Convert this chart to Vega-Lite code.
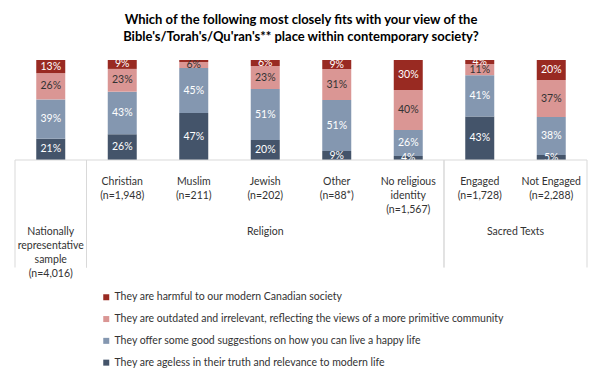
{
  "$schema": "https://vega.github.io/schema/vega-lite/v6.json",
  "width": 572,
  "height": 220,
  "autosize": {"type": "none"},
  "padding": {"left": 15, "right": 15, "top": 60, "bottom": 99},
  "background": "white",
  "config": {"view": {"stroke": null}, "font": "Lato"},
  "title": {
    "text": ["Which of the following most closely fits with your view of the", "Bible's/Torah's/Qu'ran's**  place within contemporary society?"],
    "font": "Lato", "fontSize": 13, "fontWeight": "bold", "color": "#000000",
    "anchor": "middle", "offset": 12, "lineHeight": 17
  },
  "datasets": {
    "rows": [
      {"cat": "National", "label": "", "ageless": 21, "offer": 39, "outdated": 26, "harmful": 13},
      {"cat": "Christian", "label": "Christian\n(n=1,948)", "ageless": 26, "offer": 43, "outdated": 23, "harmful": 9},
      {"cat": "Muslim", "label": "Muslim\n(n=211)", "ageless": 47, "offer": 45, "outdated": 6, "harmful": 2},
      {"cat": "Jewish", "label": "Jewish\n(n=202)", "ageless": 20, "offer": 51, "outdated": 23, "harmful": 6},
      {"cat": "Other", "label": "Other\n(n=88*)", "ageless": 9, "offer": 51, "outdated": 31, "harmful": 9},
      {"cat": "No religious", "label": "No religious\nidentity\n(n=1,567)", "ageless": 4, "offer": 26, "outdated": 40, "harmful": 30},
      {"cat": "Engaged", "label": "Engaged\n(n=1,728)", "ageless": 43, "offer": 41, "outdated": 11, "harmful": 4},
      {"cat": "Not Engaged", "label": "Not Engaged\n(n=2,288)", "ageless": 5, "offer": 38, "outdated": 37, "harmful": 20}
    ],
    "groups": [
      {"g": "Nationally\nrepresentative\nsample\n(n=4,016)", "first": "National", "last": "National", "at": "National"},
      {"g": "Religion", "first": "Christian", "last": "No religious", "at": "Jewish"},
      {"g": "Sacred Texts", "first": "Engaged", "last": "Not Engaged", "at": "Not Engaged"}
    ]
  },
  "layer": [
    {
      "data": {"name": "rows"},
      "transform": [
        {"fold": ["ageless", "offer", "outdated", "harmful"], "as": ["view", "pct"]},
        {"calculate": "indexof(['ageless','offer','outdated','harmful'], datum.view)", "as": "ord"},
        {"stack": "pct", "groupby": ["cat"], "sort": [{"field": "ord", "order": "ascending"}], "offset": "normalize", "as": ["y0", "y1"]},
        {"calculate": "(datum.y0 + datum.y1) / 2", "as": "ymid"},
        {"calculate": "datum.pct >= 3 ? datum.pct + '%' : ''", "as": "lbl"}
      ],
      "layer": [
        {
          "mark": {"type": "bar", "width": 29},
          "encoding": {
            "x": {
              "field": "cat", "type": "nominal",
              "scale": {"domain": ["National", "Christian", "Muslim", "Jewish", "Other", "No religious", "Engaged", "Not Engaged"], "paddingInner": 0, "paddingOuter": 0},
              "axis": null
            },
            "y": {"field": "y0", "type": "quantitative", "scale": {"domain": [-1.075, 1]}, "axis": null},
            "y2": {"field": "y1"},
            "color": {
              "field": "view", "type": "nominal",
              "scale": {"domain": ["harmful", "outdated", "offer", "ageless"], "range": ["#992A22", "#DA9694", "#8497B0", "#44546A"]},
              "legend": {
                "orient": "none", "legendX": 86, "legendY": 232, "direction": "vertical", "title": null,
                "symbolType": "square", "symbolSize": 36, "symbolStrokeWidth": 0,
                "labelFont": "Lato", "labelFontSize": 10.5, "labelColor": "#333333", "labelOffset": 3, "labelLimit": 600,
                "rowPadding": 10.8, "padding": 0,
                "labelExpr": "datum.label == 'harmful' ? 'They are harmful to our modern Canadian society' : datum.label == 'outdated' ? 'They are outdated and irrelevant, reflecting the views of a more primitive community' : datum.label == 'offer' ? 'They offer some good suggestions on how you can live a happy life' : 'They are ageless in their truth and relevance to modern life'"
              }
            }
          }
        },
        {
          "mark": {"type": "text", "fontSize": 10.5, "font": "Lato", "baseline": "middle"},
          "encoding": {
            "x": {"field": "cat", "type": "nominal"},
            "y": {"field": "ymid", "type": "quantitative"},
            "text": {"field": "lbl"},
            "color": {"condition": {"test": "datum.view == 'outdated'", "value": "#333333"}, "value": "#ffffff"}
          }
        }
      ]
    },
    {
      "data": {"name": "rows"},
      "mark": {"type": "text", "fontSize": 10.5, "font": "Lato", "baseline": "top", "lineBreak": "\n", "lineHeight": 14, "color": "#333333"},
      "encoding": {
        "x": {"field": "cat", "type": "nominal"},
        "y": {"datum": -0.17},
        "text": {"field": "label"}
      }
    },
    {
      "data": {"name": "groups"},
      "transform": [{"filter": "datum.g != 'Sacred Texts'"}],
      "mark": {"type": "text", "fontSize": 10.5, "font": "Lato", "baseline": "top", "lineBreak": "\n", "lineHeight": 14, "color": "#333333"},
      "encoding": {
        "x": {"field": "at", "type": "nominal", "bandPosition": 0.5},
        "y": {"datum": -0.665},
        "text": {"field": "g"}
      }
    },
    {
      "data": {"name": "groups"},
      "transform": [{"filter": "datum.g == 'Sacred Texts'"}],
      "mark": {"type": "text", "fontSize": 10.5, "font": "Lato", "baseline": "top", "color": "#333333"},
      "encoding": {
        "x": {"field": "at", "type": "nominal", "bandPosition": 0},
        "y": {"datum": -0.665},
        "text": {"field": "g"}
      }
    },
    {
      "data": {"name": "groups"},
      "mark": {"type": "rule", "color": "#d9d9d9", "strokeWidth": 1},
      "encoding": {
        "x": {"field": "first", "type": "nominal", "bandPosition": 0},
        "y": {"datum": 0},
        "y2": {"datum": -1.075}
      }
    },
    {
      "data": {"name": "groups"},
      "mark": {"type": "rule", "color": "#d9d9d9", "strokeWidth": 1},
      "encoding": {
        "x": {"field": "last", "type": "nominal", "bandPosition": 1},
        "y": {"datum": 0},
        "y2": {"datum": -1.075}
      }
    },
    {
      "data": {"values": [{}]},
      "mark": {"type": "rule", "color": "#d9d9d9", "strokeWidth": 1},
      "encoding": {"y": {"datum": 0}}
    }
  ]
}
